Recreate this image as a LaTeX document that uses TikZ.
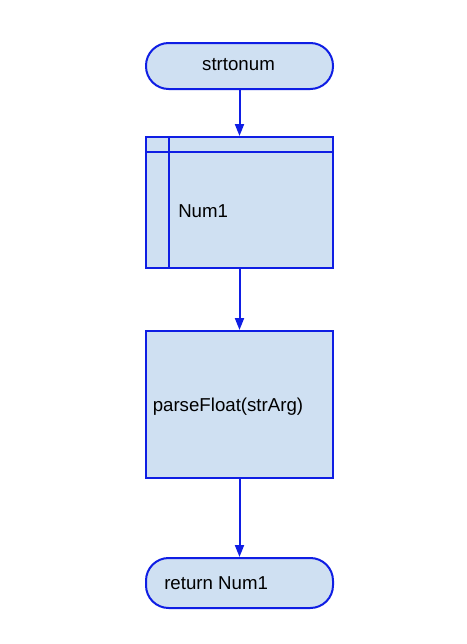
\documentclass[tikz,border=0pt]{standalone}
\usepackage{fontspec}
\setmainfont{Liberation Sans}
\usetikzlibrary{arrows.meta}
\definecolor{fc}{RGB}{207,224,242}
\definecolor{lc}{RGB}{15,30,228}
\begin{document}
\begin{tikzpicture}[x=0.75pt,y=-0.75pt,
  shapebox/.style={draw=lc,fill=fc,line width=1.5pt,inner sep=0pt,anchor=north west},
  term/.style={shapebox,rounded corners=17pt},
  lbl/.style={font=\fontsize{14pt}{16pt}\selectfont,text=black,inner sep=0pt},
  conn/.style={draw=lc,line width=1.5pt,-{Triangle[length=9pt,width=6.75pt]}}]
\useasboundingbox (0,0) rectangle (467,644);
\fill[white] (0,0) rectangle (467,644);
% terminal start
\node[term,minimum width=140.25pt,minimum height=34.5pt] (t1) at (145,42) {};
\node[lbl] (t1l) at (238.5,65) {strtonum};
% data box
\node[shapebox,minimum width=140.25pt,minimum height=98.25pt] (b1) at (145,136) {};
\draw[lc,line width=1.5pt] (169,136) -- (169,267);
\draw[lc,line width=1.5pt] (145,152) -- (332,152);
\node[lbl,anchor=west] (b1l) at (178,211) {Num1};
% process
\node[shapebox,minimum width=140.25pt,minimum height=110.25pt] (b2) at (145,330) {};
\node[lbl,anchor=west] (b2l) at (152.5,407) {parseFloat(strArg)};
% terminal end
\node[term,minimum width=140.25pt,minimum height=37.5pt] (t2) at (145,557) {};
\node[lbl,anchor=west] (t2l) at (164,583) {return Num1};
% connectors
\draw[conn] (t1.south) -- (b1.north);
\draw[conn] (b1.south) -- (b2.north);
\draw[conn] (b2.south) -- (t2.north);
\end{tikzpicture}
\end{document}
